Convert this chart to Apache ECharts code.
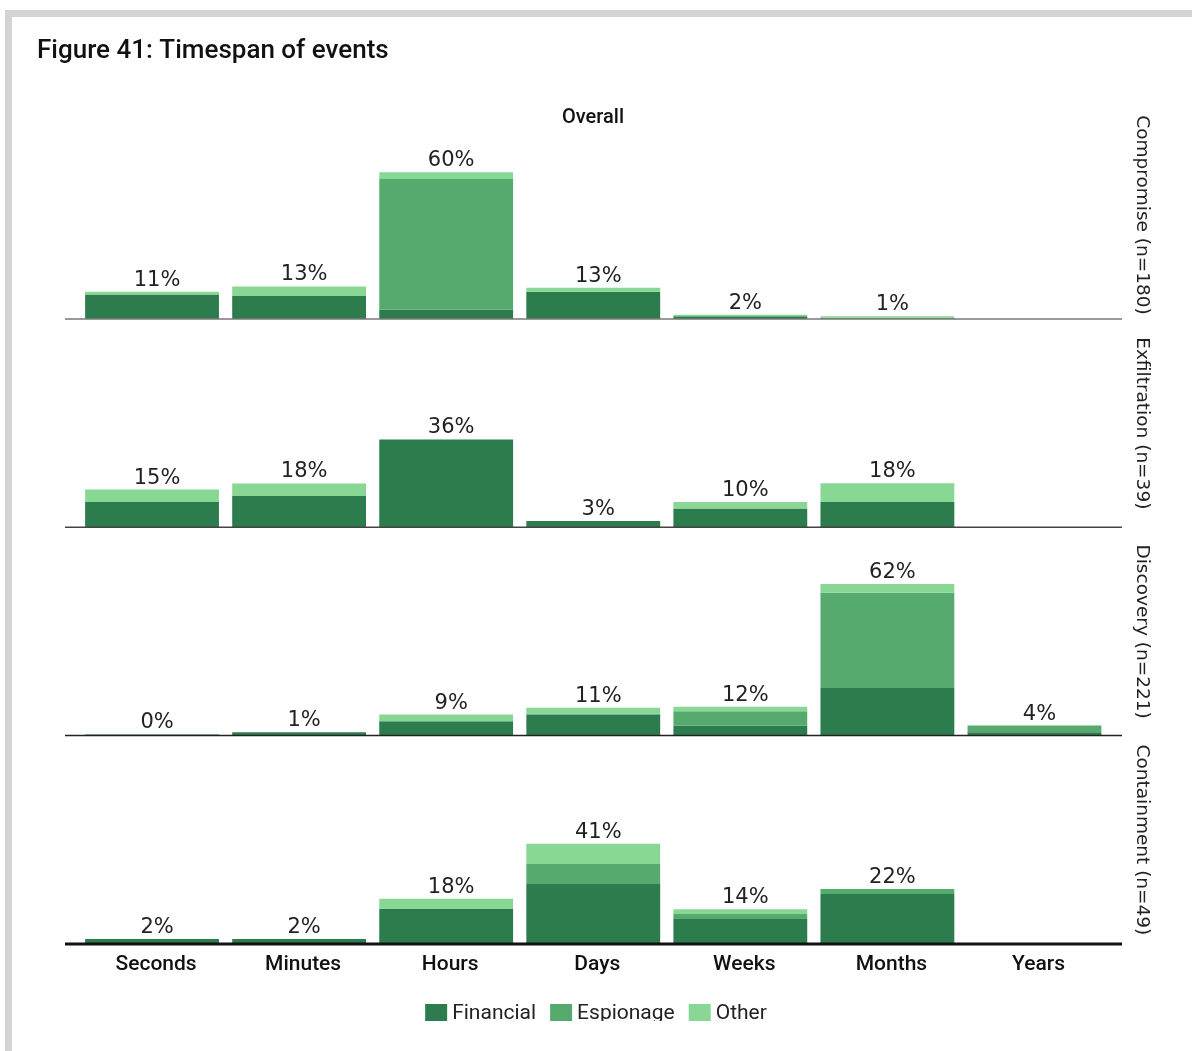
<!DOCTYPE html>
<html>
<head>
	<meta charset="utf-8">
	<title>Timespan of events</title>
	<style>
		html, body {
			margin: 0;
			padding: 0;
			width: 100%;
			height: 100%;
			background: #fff;
			overflow: hidden;
		}
		#frame {
			position: absolute;
			left: 5px;
			top: 10px;
			right: 0;
			bottom: 0;
			border-top: 7px solid #d4d4d4;
			border-left: 7px solid #d4d4d4;
		}
		#chart {
			position: absolute;
			left: 0;
			top: 0;
			width: 1192px;
			height: 1021px;
		}
	</style>
</head>
<body>
	<div id="frame"></div>
	<div id="chart"></div>
	<script src="https://cdn.jsdelivr.net/npm/echarts@6/dist/echarts.min.js"></script>
	<script>
	var categories = ['Seconds', 'Minutes', 'Hours', 'Days', 'Weeks', 'Months', 'Years'];
	var panelNames = ['Compromise (n=180)', 'Exfiltration (n=39)', 'Discovery (n=221)', 'Containment (n=49)'];
	var seriesNames = ['Financial', 'Espionage', 'Other'];

	// share of events (%) per motive, one set per phase
	var compromiseFinancial = [10.0, 9.4, 3.9, 11.1, 1.1, 0, 0];
	var compromiseEspionage = [0, 0, 53.3, 0, 0, 0.6, 0];
	var compromiseOther     = [1.1, 3.9, 2.8, 1.7, 0.6, 0.5, 0];
	var compromiseTotals    = ['11%', '13%', '60%', '13%', '2%', '1%', ''];

	var exfilFinancial = [10.3, 12.8, 35.9, 2.6, 7.7, 10.3, 0];
	var exfilEspionage = [0, 0, 0, 0, 0, 0, 0];
	var exfilOther     = [5.1, 5.1, 0, 0, 2.6, 7.7, 0];
	var exfilTotals    = ['15%', '18%', '36%', '3%', '10%', '18%', ''];

	var discoveryFinancial = [0.45, 1.4, 5.9, 8.6, 4.1, 19.5, 1.4];
	var discoveryEspionage = [0, 0, 0, 0.45, 5.9, 38.9, 2.7];
	var discoveryOther     = [0, 0, 2.7, 2.3, 1.8, 3.6, 0];
	var discoveryTotals    = ['0%', '1%', '9%', '11%', '12%', '62%', '4%'];

	var containFinancial = [2.0, 2.0, 14.3, 24.5, 10.2, 20.4, 0];
	var containEspionage = [0, 0, 0, 8.2, 2.0, 2.0, 0];
	var containOther     = [0, 0, 4.1, 8.2, 2.0, 0, 0];
	var containTotals    = ['2%', '2%', '18%', '41%', '14%', '22%', ''];

	var panels = [
		[compromiseFinancial, compromiseEspionage, compromiseOther, compromiseTotals],
		[exfilFinancial, exfilEspionage, exfilOther, exfilTotals],
		[discoveryFinancial, discoveryEspionage, discoveryOther, discoveryTotals],
		[containFinancial, containEspionage, containOther, containTotals]
	];

	var colors = ['#2d7c4e', '#56aa6e', '#89d795'];
	var gridLeft = 78.5, gridRight = 84;
	var firstTop = 111, panelStep = 208.3, panelH = 208;
	var baseStyles = [
		{ stroke: '#777', lineWidth: 1.5 },
		{ stroke: '#444', lineWidth: 1.5 },
		{ stroke: '#222', lineWidth: 1.5 },
		{ stroke: '#111', lineWidth: 3 }
	];

	var grids = [], xAxes = [], yAxes = [], series = [], graphics = [];
	for (var i = 0; i < panels.length; i++) {
		var panelTop = firstTop + i * panelStep;
		grids.push({ left: gridLeft, right: gridRight, top: panelTop, height: panelH });
		xAxes.push({
			type: 'category',
			gridIndex: i,
			data: categories,
			axisLine: { show: false },
			axisTick: { show: false },
			axisLabel: {
				show: i === panels.length - 1,
				margin: 10,
				padding: [0, 0, 0, 8],
				fontFamily: 'Roboto',
				fontWeight: 500,
				fontSize: 21,
				color: '#111'
			}
		});
		yAxes.push({
			type: 'value',
			gridIndex: i,
			min: 0,
			max: 85,
			position: 'right',
			axisLine: { show: false },
			axisTick: { show: false },
			axisLabel: { show: false },
			splitLine: { show: false },
			name: panelNames[i],
			nameLocation: 'middle',
			nameRotate: -90,
			nameGap: 24,
			nameTextStyle: { fontFamily: 'DejaVu Sans', fontSize: 18.5, color: '#222' }
		});
		for (var s = 0; s < 3; s++) {
			series.push({
				name: seriesNames[s],
				type: 'bar',
				stack: 'p' + i,
				xAxisIndex: i,
				yAxisIndex: i,
				barCategoryGap: '9%',
				itemStyle: { color: colors[s] },
				emphasis: { disabled: true },
				data: panels[i][s]
			});
		}
		// zero-height bar on top of each stack carries the total label
		(function (totals) {
			series.push({
				name: 'total',
				type: 'bar',
				stack: 'p' + i,
				xAxisIndex: i,
				yAxisIndex: i,
				barCategoryGap: '9%',
				silent: true,
				itemStyle: { color: 'transparent' },
				label: {
					show: true,
					position: 'top',
					distance: 1,
					offset: [5, 0],
					fontFamily: 'DejaVu Sans',
					fontSize: 21,
					color: '#222',
					formatter: function (p) { return totals[p.dataIndex]; }
				},
				data: categories.map(function () { return 0; })
			});
		})(panels[i][3]);
		graphics.push({
			type: 'line',
			z: 10,
			shape: { x1: 65, y1: panelTop + panelH, x2: 1122, y2: panelTop + panelH },
			style: baseStyles[i]
		});
	}

	graphics.push({
		type: 'text',
		left: 37,
		top: 38,
		style: { text: 'Figure 41: Timespan of events', fontFamily: 'Roboto', fontWeight: 500, fontSize: 26, fill: '#111' }
	});
	graphics.push({
		type: 'text',
		x: 593,
		y: 118,
		style: { text: 'Overall', fontFamily: 'Roboto', fontWeight: 500, fontSize: 20, fill: '#111', align: 'center', verticalAlign: 'middle' }
	});

	var chart = echarts.init(document.getElementById('chart'));
	chart.setOption({
		animation: false,
		grid: grids,
		xAxis: xAxes,
		yAxis: yAxes,
		legend: {
			data: seriesNames,
			top: 1003,
			left: 'center',
			padding: 0,
			itemWidth: 22,
			itemHeight: 19,
			itemGap: 14,
			icon: 'path://M0,0H22V19H0Z',
			selectedMode: false,
			textStyle: { fontFamily: 'Roboto', fontSize: 21, color: '#222' }
		},
		graphic: graphics,
		series: series
	});
	</script>
</body>
</html>
